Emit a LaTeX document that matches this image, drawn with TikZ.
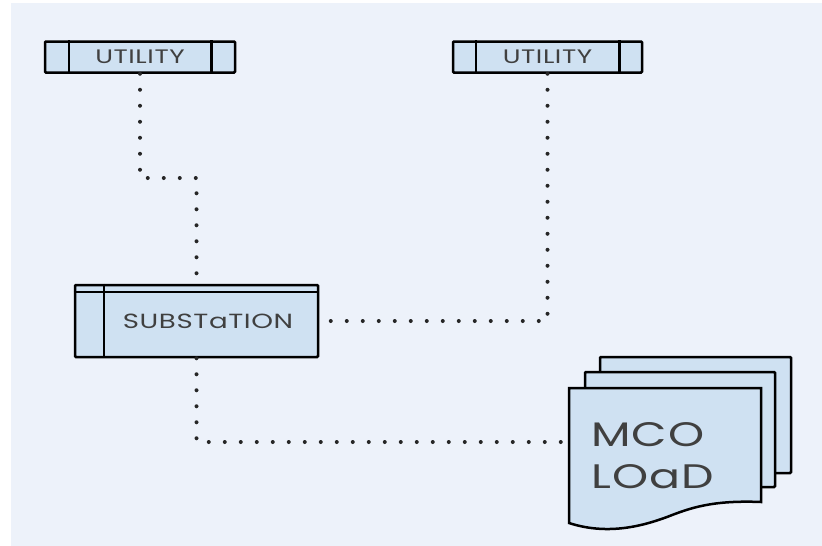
\documentclass[tikz,border=0pt]{standalone}
\usepackage{fontspec}
\setmainfont{Poppins}
\newfontfamily\labelfont{Poppins}[FakeStretch=1.35, LetterSpace=3]
\definecolor{pagebg}{HTML}{EDF2FA}
\definecolor{boxfill}{HTML}{CFE1F2}
\definecolor{inkgray}{HTML}{404040}

\begin{document}
\begin{tikzpicture}[x=1pt,y=-1pt,
  box/.style={draw=black, fill=boxfill, line width=2.5pt, rounded corners=1pt, inner sep=0pt, text=inkgray},
  rule/.style={line width=2.5pt},
  link/.style={draw=black!85, line width=4pt, line cap=round, dash pattern=on 0pt off 16pt}]
  \useasboundingbox (0,0) rectangle (822,546);
  \fill[pagebg] (11,3) rectangle (822,546);
  % utilities
  \node[box, minimum width=190pt, minimum height=31pt, font=\labelfont\fontsize{19.5}{19.5}\selectfont] (u1) at (140,57) {UTILITY};
  \draw[rule] ([xshift=25pt]u1.north west) -- ([xshift=25pt]u1.south west);
  \draw[rule] ([xshift=-25pt]u1.north east) -- ([xshift=-25pt]u1.south east);
  \node[box, minimum width=189pt, minimum height=31pt, font=\labelfont\fontsize{19.5}{19.5}\selectfont] (u2) at (547.5,57) {UTILITY};
  \draw[rule] ([xshift=24pt]u2.north west) -- ([xshift=24pt]u2.south west);
  \draw[rule] ([xshift=-24pt]u2.north east) -- ([xshift=-24pt]u2.south east);
  % substation
  \node[box, minimum width=243pt, minimum height=72pt, font=\labelfont\fontsize{20.5}{20.5}\selectfont] (sub) at (196.5,321) {\hspace*{23pt}SUBSTaTION};
  \draw[rule] ([yshift=-8pt]sub.north west) -- ([yshift=-8pt]sub.north east);
  \draw[rule] ([xshift=30pt]sub.north west) -- ([xshift=30pt]sub.south west);
  % load pages
  \begin{scope}[line width=2.5pt, fill=boxfill, rounded corners=1pt]
    \filldraw (600,357) rectangle (791,473);
    \filldraw (585,372) rectangle (775,487);
    \filldraw[rounded corners=0pt] (569,388) -- (761,388) -- (761,502)
      .. controls (712,500) and (690,508) .. (667,517)
      .. controls (640,527) and (606,535) .. (569,523) -- cycle;
  \end{scope}
  \coordinate (lp) at (569,442);
  \node[anchor=west, align=left, inner sep=0pt, text=inkgray, font=\labelfont\fontsize{34}{42}\selectfont] (load) at (591,456) {MCO\\LOaD};
  % connectors
  \coordinate (k1) at (140,178);
  \draw[link] (u1) -- (k1) -| (sub);
  \draw[link] (u2) |- (sub);
  \draw[link] (sub) |- (lp);
\end{tikzpicture}
\end{document}
